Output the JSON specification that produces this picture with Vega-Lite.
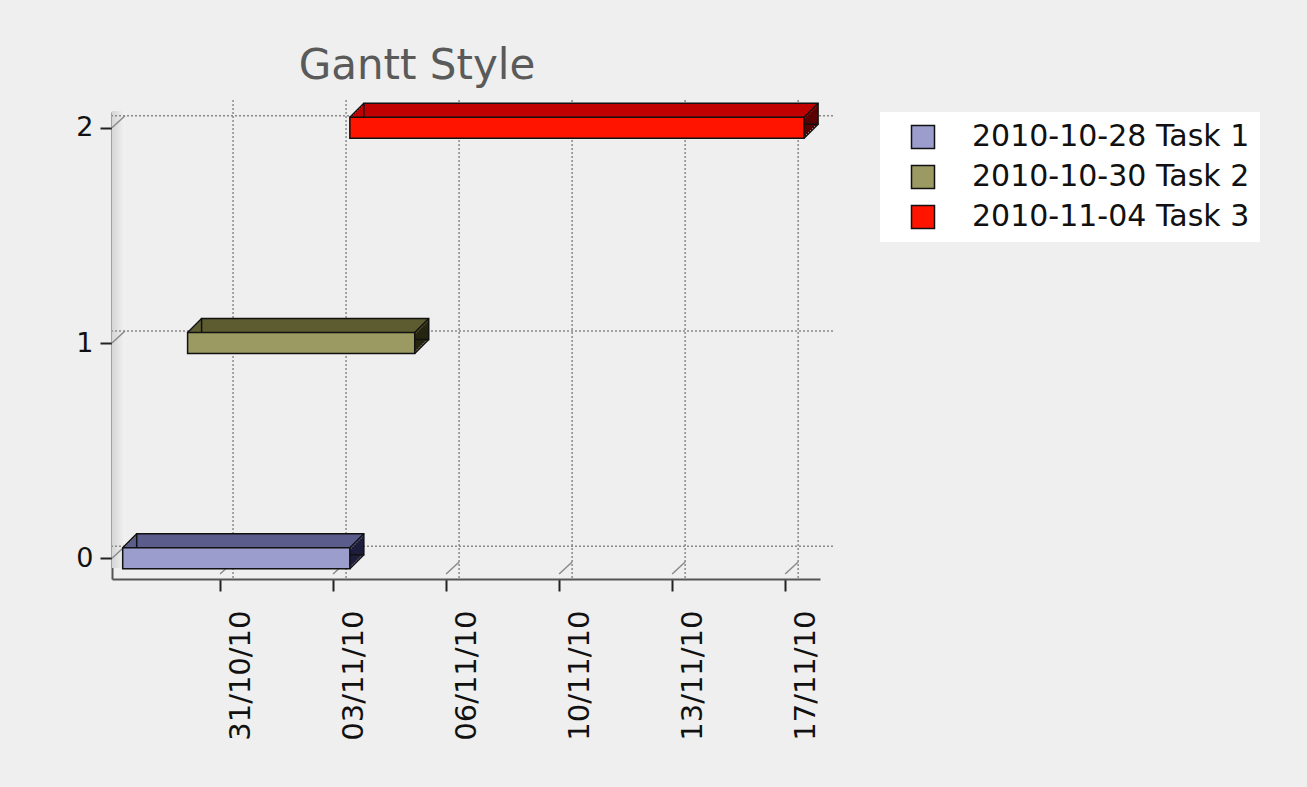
{
  "$schema": "https://vega.github.io/schema/vega-lite/v6.json",
  "width": 708,
  "height": 467,
  "autosize": "none",
  "padding": {"left": 112, "top": 112, "right": 487, "bottom": 208},
  "background": "#efefef",
  "title": {
    "text": "Gantt Style",
    "font": "DejaVu Sans",
    "fontSize": 42,
    "fontWeight": "normal",
    "color": "#5a5a5a",
    "anchor": "middle",
    "dx": -49,
    "baseline": "alphabetic",
    "offset": -22
  },
  "datasets": {
    "tasks": [
      {"label": "2010-10-28 Task 1", "start": "2010-10-28T00:00:00", "end": "2010-11-04T00:00:00", "row": 0},
      {"label": "2010-10-30 Task 2", "start": "2010-10-30T00:00:00", "end": "2010-11-06T00:00:00", "row": 1},
      {"label": "2010-11-04 Task 3", "start": "2010-11-04T00:00:00", "end": "2010-11-18T00:00:00", "row": 2}
    ],
    "ticks": [
      {"d": "2010-10-31T00:00:00"},
      {"d": "2010-11-03T11:36:00"},
      {"d": "2010-11-06T23:12:00"},
      {"d": "2010-11-10T10:48:00"},
      {"d": "2010-11-13T22:24:00"},
      {"d": "2010-11-17T10:00:00"}
    ],
    "levels": [{"v": 0}, {"v": 1}, {"v": 2}]
  },
  "layer": [
    {
      "data": {"name": "levels"},
      "mark": {"type": "rect", "x2Offset": 13, "yOffset": -6, "y2Offset": -6,
        "fill": {"gradient": "linear", "x1": 0, "y1": 0, "x2": 1, "y2": 0,
          "stops": [{"offset": 0, "color": "#d6d6d6"}, {"offset": 1, "color": "#f2f2f2"}]}},
      "transform": [{"filter": "datum.v === 0"}],
      "encoding": {
        "x": {"datum": {"year": 2010, "month": 10, "date": 27, "hours": 16, "minutes": 5}, "type": "temporal"},
        "x2": {"datum": {"year": 2010, "month": 10, "date": 27, "hours": 16, "minutes": 5}},
        "y": {"datum": -0.073, "type": "quantitative"},
        "y2": {"datum": 2.05}
      }
    },
    {
      "data": {"name": "ticks"},
      "mark": {"type": "rule", "xOffset": 13, "yOffset": -12, "color": "#8a8a8a", "strokeWidth": 1.5, "strokeDash": [2, 2]},
      "encoding": {"x": {"field": "d", "type": "temporal"}}
    },
    {
      "data": {"name": "levels"},
      "mark": {"type": "rule", "xOffset": 13, "yOffset": -12, "color": "#8a8a8a", "strokeWidth": 1.5, "strokeDash": [2, 2]},
      "encoding": {"y": {"field": "v", "type": "quantitative"}}
    },
    {
      "data": {"name": "ticks"},
      "mark": {"type": "rule", "x2Offset": 13, "y2Offset": -12, "color": "#8a8a8a", "strokeWidth": 1.5},
      "encoding": {
        "x": {"field": "d", "type": "temporal"},
        "x2": {"field": "d"},
        "y": {"datum": -0.073, "type": "quantitative"},
        "y2": {"datum": -0.073}
      }
    },
    {
      "data": {"name": "levels"},
      "mark": {"type": "rule", "x2Offset": 13, "y2Offset": -12, "color": "#8a8a8a", "strokeWidth": 1.5},
      "encoding": {
        "x": {"datum": {"year": 2010, "month": 10, "date": 27, "hours": 16, "minutes": 5}, "type": "temporal"},
        "x2": {"datum": {"year": 2010, "month": 10, "date": 27, "hours": 16, "minutes": 5}},
        "y": {"field": "v", "type": "quantitative"},
        "y2": {"field": "v"}
      }
    },
    {
      "data": {"name": "tasks"},
      "encoding": {
        "x": {"field": "start", "type": "temporal"},
        "x2": {"field": "end"},
        "y": {"field": "row", "type": "quantitative"},
        "color": {"field": "label", "type": "nominal", "legend": null,
          "scale": {"domain": ["2010-10-28 Task 1", "2010-10-30 Task 2", "2010-11-04 Task 3"], "range": ["#1e1e3c", "#262610", "#5a0000"]}}
      },
      "layer": [
        {"mark": {"type": "bar", "size": 21, "xOffset": 14, "x2Offset": 14, "yOffset": -14}},
        {"mark": {"type": "bar", "size": 21, "xOffset": 12, "x2Offset": 12, "yOffset": -12}},
        {"mark": {"type": "bar", "size": 21, "xOffset": 10, "x2Offset": 10, "yOffset": -10}},
        {"mark": {"type": "bar", "size": 21, "xOffset": 8, "x2Offset": 8, "yOffset": -8}},
        {"mark": {"type": "bar", "size": 21, "xOffset": 6, "x2Offset": 6, "yOffset": -6}},
        {"mark": {"type": "bar", "size": 21, "xOffset": 4, "x2Offset": 4, "yOffset": -4}},
        {"mark": {"type": "bar", "size": 21, "xOffset": 2, "x2Offset": 2, "yOffset": -2}}
      ]
    },
    {
      "data": {"name": "tasks"},
      "encoding": {
        "x": {"field": "start", "type": "temporal"},
        "x2": {"field": "end"},
        "y": {"field": "row", "type": "quantitative"},
        "color": {"field": "label", "type": "nominal", "legend": null,
          "scale": {"domain": ["2010-10-28 Task 1", "2010-10-30 Task 2", "2010-11-04 Task 3"], "range": ["#5b5d8c", "#5c5c30", "#c00000"]}}
      },
      "layer": [
        {"mark": {"type": "bar", "size": 3, "xOffset": 14, "x2Offset": 14, "yOffset": -23}},
        {"mark": {"type": "bar", "size": 3, "xOffset": 12, "x2Offset": 12, "yOffset": -21}},
        {"mark": {"type": "bar", "size": 3, "xOffset": 10, "x2Offset": 10, "yOffset": -19}},
        {"mark": {"type": "bar", "size": 3, "xOffset": 8, "x2Offset": 8, "yOffset": -17}},
        {"mark": {"type": "bar", "size": 3, "xOffset": 6, "x2Offset": 6, "yOffset": -15}},
        {"mark": {"type": "bar", "size": 3, "xOffset": 4, "x2Offset": 4, "yOffset": -13}},
        {"mark": {"type": "bar", "size": 3, "xOffset": 2, "x2Offset": 2, "yOffset": -11}}
      ]
    },
    {
      "data": {"name": "tasks"},
      "mark": {"type": "bar", "size": 21, "xOffset": 14, "x2Offset": 14, "yOffset": -14, "fillOpacity": 0, "stroke": "#111", "strokeWidth": 1.5},
      "encoding": {
        "x": {"field": "start", "type": "temporal"},
        "x2": {"field": "end"},
        "y": {"field": "row", "type": "quantitative"}
      }
    },
    {
      "data": {"name": "tasks"},
      "mark": {"type": "rule", "yOffset": -10.5, "x2Offset": 14, "y2Offset": -24.5, "color": "#111", "strokeWidth": 1.5},
      "encoding": {
        "x": {"field": "start", "type": "temporal"},
        "x2": {"field": "start"},
        "y": {"field": "row", "type": "quantitative"},
        "y2": {"field": "row"}
      }
    },
    {
      "data": {"name": "tasks"},
      "mark": {"type": "rule", "yOffset": -10.5, "x2Offset": 14, "y2Offset": -24.5, "color": "#111", "strokeWidth": 1.5},
      "encoding": {
        "x": {"field": "end", "type": "temporal"},
        "x2": {"field": "end"},
        "y": {"field": "row", "type": "quantitative"},
        "y2": {"field": "row"}
      }
    },
    {
      "data": {"name": "tasks"},
      "mark": {"type": "rule", "yOffset": 10.5, "x2Offset": 14, "y2Offset": -3.5, "color": "#111", "strokeWidth": 1.5},
      "encoding": {
        "x": {"field": "end", "type": "temporal"},
        "x2": {"field": "end"},
        "y": {"field": "row", "type": "quantitative"},
        "y2": {"field": "row"}
      }
    },
    {
      "data": {"name": "tasks"},
      "mark": {"type": "bar", "size": 21, "stroke": "#111", "strokeWidth": 1.5},
      "encoding": {
        "x": {
          "field": "start", "type": "temporal",
          "scale": {"domain": [
            {"year": 2010, "month": 10, "date": 27, "hours": 16, "minutes": 5},
            {"year": 2010, "month": 11, "date": 18, "hours": 11, "minutes": 46}
          ], "nice": false},
          "axis": {
            "title": null,
            "values": [
              {"year": 2010, "month": 10, "date": 31, "hours": 0},
              {"year": 2010, "month": 11, "date": 3, "hours": 11, "minutes": 36},
              {"year": 2010, "month": 11, "date": 6, "hours": 23, "minutes": 12},
              {"year": 2010, "month": 11, "date": 10, "hours": 10, "minutes": 48},
              {"year": 2010, "month": 11, "date": 13, "hours": 22, "minutes": 24},
              {"year": 2010, "month": 11, "date": 17, "hours": 10}
            ],
            "format": "%d/%m/%y",
            "labelAngle": 270,
            "labelOffset": 20,
            "labelPadding": 19,
            "labelFont": "DejaVu Sans",
            "labelFontSize": 29,
            "labelColor": "#111",
            "grid": false,
            "domainColor": "#555",
            "domainWidth": 2,
            "tickColor": "#222",
            "tickWidth": 2,
            "tickSize": 12,
            "labelOverlap": false,
            "labelFlush": false
          }
        },
        "x2": {"field": "end"},
        "y": {
          "field": "row", "type": "quantitative",
          "scale": {"domain": [-0.073, 2.05], "nice": false, "zero": false},
          "axis": {
            "title": null,
            "values": [0, 1, 2],
            "format": "d",
            "labelFont": "DejaVu Sans",
            "labelFontSize": 27,
            "labelColor": "#111",
            "labelPadding": 7,
            "grid": false,
            "domainColor": "#555",
            "domainWidth": 2,
            "tickColor": "#222",
            "tickWidth": 2,
            "tickSize": 12
          }
        },
        "color": {"field": "label", "type": "nominal",
          "scale": {"domain": ["2010-10-28 Task 1", "2010-10-30 Task 2", "2010-11-04 Task 3"], "range": ["#9b9dcc", "#9a9a62", "#ff1400"]},
          "legend": {
            "title": null,
            "orient": "right",
            "offset": 60,
            "fillColor": "white",
            "padding": 10,
            "symbolOffset": 18,
            "symbolType": "square",
            "symbolSize": 529,
            "symbolStrokeColor": "#111",
            "symbolStrokeWidth": 1.5,
            "labelFont": "DejaVu Sans",
            "labelFontSize": 30,
            "labelColor": "#111",
            "labelOffset": 34,
            "labelLimit": 0,
            "rowPadding": 10
          }
        }
      }
    }
  ],
  "resolve": {"scale": {"color": "independent"}},
  "config": {"view": {"stroke": null}, "axis": {"grid": false}}
}
